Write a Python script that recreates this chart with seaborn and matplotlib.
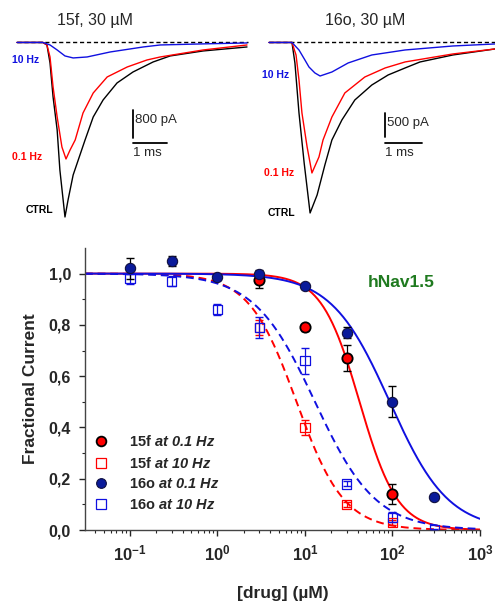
import numpy as np
import matplotlib
matplotlib.use("Agg")
import matplotlib.pyplot as plt
import seaborn as sns
from matplotlib.lines import Line2D
from matplotlib.ticker import FixedLocator, LogLocator, NullFormatter

# ---- trace data (time in ms, current in pA)
# 15f, 30 uM
t_ctrl_15f = [0, 0.76, 0.88, 0.97, 1.06, 1.18, 1.26, 1.41, 1.50, 1.65, 1.85, 2.00, 2.24, 2.53, 2.94, 3.41, 4.00, 4.50, 5.47, 6.76]
i_ctrl_15f = [0, 0, -72, -586, -1559, -2503, -3647, -4991, -4505, -3790, -3218, -2789, -2131, -1645, -1158, -844, -558, -386, -243, -129]
t_01_15f = [0, 0.76, 0.88, 0.97, 1.06, 1.18, 1.32, 1.44, 1.56, 1.71, 1.94, 2.24, 2.65, 3.24, 3.82, 4.21, 5.47, 6.76]
i_01_15f = [0, 0, -72, -415, -1273, -2131, -2989, -3332, -3074, -2789, -2017, -1445, -987, -701, -501, -415, -215, -72]
t_10_15f = [0, 0.76, 0.97, 1.18, 1.41, 1.65, 2.06, 2.74, 3.71, 4.21, 5.38, 6.76]
i_10_15f = [0, 0, -72, -215, -386, -443, -415, -272, -129, -72, -43, -14]
# 16o, 30 uM
t_ctrl_16o = [0, 0.62, 0.70, 0.81, 0.95, 1.11, 1.30, 1.51, 1.70, 1.97, 2.32, 2.78, 3.22, 3.68, 4.08, 4.97, 6.11]
i_ctrl_16o = [0, 0, -426, -1466, -2506, -3546, -3172, -2548, -2028, -1612, -1196, -884, -676, -530, -406, -260, -135]
t_01_16o = [0, 0.62, 0.73, 0.81, 0.89, 1.03, 1.16, 1.35, 1.46, 1.70, 2.05, 2.59, 3.14, 3.68, 4.97, 6.11]
i_01_16o = [0, 0, -260, -780, -1466, -2174, -2714, -2381, -2028, -1550, -1050, -718, -530, -405, -239, -135]
t_10_16o = [0, 0.62, 0.81, 0.97, 1.08, 1.24, 1.38, 1.70, 2.14, 2.78, 3.68, 4.97, 6.11]
i_10_16o = [0, 0, -156, -364, -510, -634, -697, -614, -426, -260, -156, -73, -31]

# ---- dose-response data
conc_15f_01 = [3, 10, 30, 100]
frac_15f_01 = [0.975, 0.79, 0.67, 0.14]
err_15f_01 = [0.03, 0.015, 0.05, 0.04]
conc_15f_10 = [3, 10, 30, 100]
frac_15f_10 = [0.79, 0.40, 0.10, 0.03]
err_15f_10 = [0.03, 0.03, 0.01, 0.01]
conc_16o_01 = [0.1, 0.3, 1, 3, 10, 30, 100, 300]
frac_16o_01 = [1.02, 1.05, 0.985, 1.0, 0.95, 0.77, 0.50, 0.13]
err_16o_01 = [0.04, 0.02, 0.01, 0.015, 0.01, 0.02, 0.06, 0.01]
conc_16o_10 = [0.1, 0.3, 1, 3, 10, 30, 100, 300]
frac_16o_10 = [0.98, 0.97, 0.86, 0.79, 0.66, 0.18, 0.05, 0.0]
err_16o_10 = [0.02, 0.02, 0.02, 0.04, 0.05, 0.01, 0.02, 0.005]

# Hill fit parameters (IC50 in uM, slope)
fit_names = ["15f_01", "15f_10", "16o_01", "16o_10"]
fit_ic50 = [42, 8, 93, 13]
fit_slope = [2.0, 1.6, 1.3, 1.25]

RED = "#ff0000"
BLUE = "#1010e0"
DKBLUE = "#0a1a9a"

sns.set_style("ticks")
plt.rcParams["font.family"] = ["Liberation Sans", "DejaVu Sans"]
plt.rcParams["mathtext.fontset"] = "custom"
plt.rcParams["mathtext.rm"] = "Liberation Sans"
plt.rcParams["mathtext.bf"] = "Liberation Sans:bold"
plt.rcParams["mathtext.it"] = "Liberation Sans:italic"
try:
    plt.rcParams["mathtext.bfit"] = "Liberation Sans:bold:italic"
except KeyError:
    pass

fig = plt.figure(figsize=(4.95, 6.04), dpi=100)

# ---- top trace panels
panels = [
    dict(rect=[0.0202, 0.6275, 0.485, 0.3146], xlim=(-0.206, 6.85), ylim=(-5220, 214),
         traces=[(t_ctrl_15f, i_ctrl_15f, "black"), (t_01_15f, i_01_15f, RED), (t_10_15f, i_10_15f, BLUE)],
         bar_t=3.41, bar_i=(-2730, -1930), hbar_i=-2874, bar_lab="800 pA",
         labels=[(-0.15, -500, "10 Hz", BLUE), (-0.15, -3275, "0.1 Hz", RED), (0.24, -4790, "CTRL", "black")],
         base_end=6.8, title="15f, 30 µM", tx=95),
    dict(rect=[0.5293, 0.6275, 0.4707, 0.3146], xlim=(-0.19, 6.11), ylim=(-3796, 156),
         traces=[(t_ctrl_16o, i_ctrl_16o, "black"), (t_01_16o, i_01_16o, RED), (t_10_16o, i_10_16o, BLUE)],
         bar_t=3.14, bar_i=(-1966, -1466), hbar_i=-2090, bar_lab="500 pA",
         labels=[(-0.19, -676, "10 Hz", BLUE), (-0.135, -2714, "0.1 Hz", RED), (-0.03, -3546, "CTRL", "black")],
         base_end=6.11, title="16o, 30 µM", tx=365),
]
for p in panels:
    ax = fig.add_axes(p["rect"])
    ax.axis("off")
    ax.set_xlim(*p["xlim"])
    ax.set_ylim(*p["ylim"])
    ax.plot([0, p["base_end"]], [0, 0], ls=(0, (3, 2)), color="black", lw=1.0, zorder=1)
    for t, i, c in p["traces"]:
        sns.lineplot(x=t, y=i, color=c, lw=1.0, sort=False, ax=ax, zorder=3,
                     solid_joinstyle="round")
    bt = p["bar_t"]
    ax.plot([bt, bt], list(p["bar_i"]), color="black", lw=1.3)
    ax.plot([bt, bt + 1], [p["hbar_i"]] * 2, color="black", lw=1.3)
    span = p["ylim"][1] - p["ylim"][0]
    ax.text(bt + 0.06, p["bar_i"][1] - 0.02 * span, p["bar_lab"], fontsize=9.5, va="top", ha="left")
    ax.text(bt, p["hbar_i"] - 0.02 * span, "1 ms", fontsize=9.5, va="top", ha="left")
    for x, y, s, c in p["labels"]:
        ax.text(x, y, s, color=c, fontsize=7.5, fontweight="bold", ha="left", va="center")
    fig.text(p["tx"] / 495, 1 - 20 / 604, p["title"], fontsize=11.5, ha="center", va="center")

# ---- dose-response panel
ax = fig.add_axes([0.1717, 0.1225, 0.798, 0.467])
sns.despine(ax=ax)
ax.set_xscale("log")
ax.set_xlim(0.0306, 1000)
ax.set_ylim(0, 1.10)

xx = np.logspace(np.log10(0.0306), 3, 400)
fit_style = {"15f_01": (RED, "-"), "15f_10": (RED, (0, (4, 2.5))),
             "16o_01": (BLUE, "-"), "16o_10": (BLUE, (0, (4, 2.5)))}
for name, ic, n in zip(fit_names, fit_ic50, fit_slope):
    c, ls = fit_style[name]
    ax.plot(xx, 1 / (1 + (xx / ic) ** n), color=c, ls=ls, lw=1.4, zorder=2)

ax.errorbar(conc_15f_10, frac_15f_10, yerr=err_15f_10, fmt="none", ecolor=RED, elinewidth=0.9, capsize=3, zorder=3)
ax.errorbar(conc_16o_10, frac_16o_10, yerr=err_16o_10, fmt="none", ecolor=BLUE, elinewidth=0.9, capsize=3, zorder=3)
ax.errorbar(conc_15f_01, frac_15f_01, yerr=err_15f_01, fmt="none", ecolor="black", elinewidth=0.9, capsize=3, zorder=3)
ax.errorbar(conc_16o_01, frac_16o_01, yerr=err_16o_01, fmt="none", ecolor="black", elinewidth=0.9, capsize=3, zorder=3)

sns.scatterplot(x=conc_15f_10, y=frac_15f_10, marker="s", s=45, facecolor="none", edgecolor=RED, linewidth=0.9, ax=ax, zorder=4)
sns.scatterplot(x=conc_16o_10, y=frac_16o_10, marker="s", s=45, facecolor="none", edgecolor=BLUE, linewidth=0.9, ax=ax, zorder=4)
sns.scatterplot(x=conc_15f_01, y=frac_15f_01, marker="o", s=55, color=RED, edgecolor="black", linewidth=1.3, ax=ax, zorder=5)
sns.scatterplot(x=conc_16o_01, y=frac_16o_01, marker="o", s=55, color=DKBLUE, edgecolor="#101040", linewidth=0.8, ax=ax, zorder=5)

ax.yaxis.set_major_locator(FixedLocator([0, 0.2, 0.4, 0.6, 0.8, 1.0]))
ax.yaxis.set_minor_locator(FixedLocator([0.1, 0.3, 0.5, 0.7, 0.9]))
ax.set_yticklabels(["0,0", "0,2", "0,4", "0,6", "0,8", "1,0"], fontsize=11.5, fontweight="bold")
ax.xaxis.set_major_locator(FixedLocator([0.1, 1, 10, 100, 1000]))
ax.xaxis.set_minor_locator(LogLocator(base=10, subs=np.arange(2, 10), numticks=20))
ax.xaxis.set_minor_formatter(NullFormatter())
ax.set_xticklabels([r"$\mathbf{10^{-1}}$", r"$\mathbf{10^{0}}$", r"$\mathbf{10^{1}}$",
                    r"$\mathbf{10^{2}}$", r"$\mathbf{10^{3}}$"], fontsize=12)
ax.tick_params(axis="both", which="major", direction="out", length=4, width=1, pad=6)
ax.tick_params(axis="both", which="minor", direction="out", length=2.5, width=0.8)
for s in ax.spines.values():
    s.set_linewidth(1.0)
    s.set_color("#444444")

ax.set_ylabel("Fractional Current", fontsize=12.5, fontweight="bold", labelpad=8)
ax.set_xlabel("[drug] (µM)", fontsize=12.5, fontweight="bold", labelpad=16)
ax.text(0.80, 0.876, "hNav1.5", transform=ax.transAxes, color="#1f7a1f", fontsize=12.5,
        fontweight="bold", ha="center", va="center")

handles = [
    Line2D([], [], marker="o", ls="none", markersize=7, markerfacecolor=RED, markeredgecolor="black", markeredgewidth=1.3),
    Line2D([], [], marker="s", ls="none", markersize=6.5, markerfacecolor="none", markeredgecolor=RED, markeredgewidth=0.9),
    Line2D([], [], marker="o", ls="none", markersize=7, markerfacecolor=DKBLUE, markeredgecolor="#101040", markeredgewidth=0.8),
    Line2D([], [], marker="s", ls="none", markersize=6.5, markerfacecolor="none", markeredgecolor=BLUE, markeredgewidth=0.9),
]
labels = [r"$\mathbf{15f}$ $\mathbfit{at\ 0.1\ Hz}$", r"$\mathbf{15f}$ $\mathbfit{at\ 10\ Hz}$",
          r"$\mathbf{16o}$ $\mathbfit{at\ 0.1\ Hz}$", r"$\mathbf{16o}$ $\mathbfit{at\ 10\ Hz}$"]
ax.legend(handles, labels, loc="upper left", bbox_to_anchor=(-0.01, 0.36), frameon=False,
          fontsize=10.5, handletextpad=0.9, labelspacing=0.45, borderaxespad=0)

fig.savefig("out.png", dpi=100)
